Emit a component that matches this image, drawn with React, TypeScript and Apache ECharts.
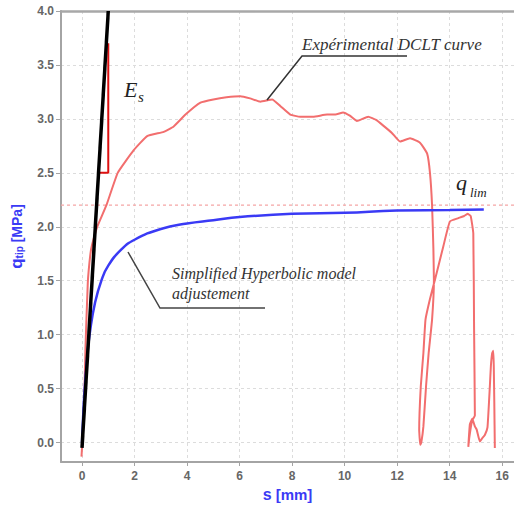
import React, { useEffect, useRef } from 'react';
import * as echarts from 'echarts';

// Experimental DCLT curve (s in mm, q_tip in MPa)
const expS = [
  -0.02, 0.0, 0.07, 0.13, 0.22, 0.32, 0.39, 0.58, 0.93, 1.36, 1.97, 2.48, 3.11, 3.49, 3.94, 4.51,
  5.0, 5.5, 6.03, 6.4, 6.79, 7.24, 7.55, 7.93, 8.31, 8.8, 9.33, 9.65, 9.94, 10.2, 10.47, 10.9,
  11.2, 11.46, 11.8, 12.11, 12.49, 12.87, 13.14, 13.25, 13.33, 13.38, 13.4, 13.33, 13.2, 13.1,
  13.0, 12.92, 12.88, 12.84, 12.9, 13.0, 13.08, 13.25, 13.44, 13.76, 14.01, 14.33, 14.55, 14.68,
  14.8, 14.9, 14.93, 14.96, 14.85, 14.75, 14.71, 14.77, 14.86, 14.96, 15.03, 15.15, 15.24, 15.34,
  15.44, 15.53, 15.57, 15.62, 15.66, 15.68, 15.7, 15.72,
];
const expQ = [
  -0.13, -0.05, 0.24, 0.86, 1.48, 1.75, 1.84, 2.0, 2.2, 2.5, 2.71, 2.84, 2.88, 2.93, 3.04, 3.15,
  3.18, 3.2, 3.21, 3.19, 3.16, 3.18, 3.12, 3.04, 3.02, 3.02, 3.04, 3.04, 3.06, 3.03, 2.98, 3.02,
  2.99, 2.94, 2.87, 2.79, 2.82, 2.78, 2.68, 2.5, 2.2, 1.8, 1.5, 1.14, 0.83, 0.52,
  0.15, 0.0, -0.02, 0.12, 0.52, 0.83, 1.14, 1.33, 1.51, 1.82, 2.05, 2.08, 2.1, 2.12,
  2.1, 1.94, 1.05, 0.25, 0.2, 0.05, -0.04, 0.17, 0.22, 0.15, 0.12, 0.01, 0.04, 0.07,
  0.14, 0.52, 0.71, 0.83, 0.85, 0.71, 0.37, -0.05,
];

// Simplified hyperbolic model adjustment
const hypS = [0, 0.05, 0.1, 0.2, 0.3, 0.5, 0.75, 1, 1.5, 2, 3, 4, 5, 6, 8, 10, 12, 14, 15.3];
const hypQ = [0, 0.28, 0.49, 0.8, 1.02, 1.3, 1.51, 1.64, 1.79, 1.88, 1.98, 2.03, 2.06, 2.09, 2.12, 2.13, 2.15, 2.155, 2.16];

// Initial stiffness line E_s and its slope triangle
const esS = [0, 1.0];
const esQ = [-0.05, 4.0];
const triS = [0.6, 1.0, 1.0];
const triQ = [2.5, 2.5, 3.7];

// Limit pressure line
const qLimS = [-0.8, 16.45];
const qLimQ = [2.2, 2.2];

const zip = (a: number[], b: number[]) => a.map((v, i) => [v, b[i]]);

const BLUE = '#3a3af5';
const SANS = '"Liberation Sans", Arial, sans-serif';
const SERIF = '"Liberation Serif", "DejaVu Serif", serif';

export default function App() {
  const ref = useRef<HTMLDivElement>(null);
  useEffect(() => {
    if (!ref.current) return;
    const chart = echarts.init(ref.current, undefined, { renderer: 'svg' });
    const labelStyle = { color: '#666', fontSize: 12, fontWeight: 'bold' as const, fontFamily: SANS };
    chart.setOption({
      animation: false,
      backgroundColor: '#fff',
      grid: { left: 60, right: 0, top: 11, bottom: 47, containLabel: false },
      xAxis: [
        {
          type: 'value',
          min: -0.8,
          max: 16.45,
          splitNumber: 8,
          name: '{s|s} [mm]',
          nameLocation: 'middle',
          nameGap: 24,
          nameTextStyle: {
            color: BLUE, fontSize: 15, fontWeight: 'bold', fontFamily: SANS,
            rich: { s: { color: BLUE, fontSize: 16, fontWeight: 'bold', fontFamily: SANS } },
          },
          axisLine: { show: true, onZero: false, lineStyle: { color: '#a4a4a4', width: 2 } },
          axisTick: { show: true, length: 4, lineStyle: { color: '#a4a4a4' } },
          axisLabel: {
            ...labelStyle,
            margin: 8,
            showMinLabel: false,
            showMaxLabel: false,
            formatter: (v: number) => (Math.abs(v - Math.round(v)) < 1e-6 && Math.round(v) % 2 === 0 ? String(Math.round(v)) : ''),
          },
          splitLine: { show: true, lineStyle: { color: '#dcdcdc', type: [3, 3], width: 1 } },
        },
        {
          type: 'value',
          position: 'top',
          min: -0.8,
          max: 16.45,
          axisLine: { show: true, onZero: false, lineStyle: { color: '#a8a8a8', width: 2.5 } },
          axisTick: { show: false },
          axisLabel: { show: false },
          splitLine: { show: false },
        },
      ],
      yAxis: {
        type: 'value',
        min: -0.18,
        max: 4.0,
        splitNumber: 8,
        name: '{q|q}{t|tip} [MPa]',
        nameLocation: 'middle',
        nameRotate: 90,
        nameGap: 36,
        nameTextStyle: {
          color: BLUE, fontSize: 14, fontWeight: 'bold', fontFamily: SANS,
          rich: {
            q: { color: BLUE, fontSize: 17, fontWeight: 'bold', fontFamily: SANS },
            t: { color: BLUE, fontSize: 10, fontWeight: 'bold', fontFamily: SANS, padding: [6, 0, 0, 0] },
          },
        },
        axisLine: { show: true, onZero: false, lineStyle: { color: '#a4a4a4', width: 2 } },
        axisTick: { show: true, length: 5, lineStyle: { color: '#a4a4a4' } },
        axisLabel: {
          ...labelStyle,
          margin: 7,
          showMinLabel: false,
          formatter: (v: number) => (Math.abs(v * 2 - Math.round(v * 2)) < 1e-6 ? v.toFixed(1) : ''),
        },
        splitLine: { show: true, lineStyle: { color: '#dcdcdc', type: [3, 3], width: 1 } },
      },
      series: [
        {
          type: 'line',
          name: 'q_lim',
          data: zip(qLimS, qLimQ),
          showSymbol: false,
          silent: true,
          lineStyle: { color: '#f5a5a5', type: [3, 3], width: 1.2 },
          z: 1,
        },
        {
          type: 'line',
          name: 'Experimental DCLT curve',
          data: zip(expS, expQ),
          showSymbol: false,
          smooth: 0.12,
          lineStyle: { color: '#f26e6e', width: 2 },
          z: 2,
        },
        {
          type: 'line',
          name: 'Simplified hyperbolic model',
          data: zip(hypS, hypQ),
          showSymbol: false,
          smooth: true,
          lineStyle: { color: BLUE, width: 2.5 },
          z: 3,
        },
        {
          type: 'line',
          data: zip(triS, triQ),
          showSymbol: false,
          lineStyle: { color: '#dd1111', width: 2 },
          z: 4,
        },
        {
          type: 'line',
          data: zip(esS, esQ),
          showSymbol: false,
          lineStyle: { color: '#000', width: 3.5 },
          z: 5,
        },
      ],
      graphic: [
        { type: 'text', z: 100, x: 124, y: 89.5, style: { text: 'E', font: `italic 22px ${SERIF}`, fill: '#222', align: 'left', verticalAlign: 'middle' } },
        { type: 'text', z: 100, x: 138, y: 97, style: { text: 's', font: `italic 15px ${SERIF}`, fill: '#222', align: 'left', verticalAlign: 'middle' } },
        { type: 'text', z: 100, x: 456, y: 182.5, style: { text: 'q', font: `italic 22px ${SERIF}`, fill: '#222', align: 'left', verticalAlign: 'middle' } },
        { type: 'text', z: 100, x: 470, y: 192, style: { text: 'lim', font: `italic 13px ${SERIF}`, fill: '#222', align: 'left', verticalAlign: 'middle' } },
        { type: 'text', z: 100, x: 302, y: 44, style: { text: 'Expérimental DCLT curve', font: `italic 17px ${SERIF}`, fill: '#333', align: 'left', verticalAlign: 'middle' } },
        { type: 'polyline', z: 100, shape: { points: [[267, 100], [302, 56], [407, 56]] }, style: { stroke: '#333', lineWidth: 1.5, fill: null } },
        { type: 'text', z: 100, x: 172, y: 273, style: { text: 'Simplified Hyperbolic model', font: `italic 16px ${SERIF}`, fill: '#333', align: 'left', verticalAlign: 'middle' } },
        { type: 'text', z: 100, x: 172, y: 293, style: { text: 'adjustement', font: `italic 16px ${SERIF}`, fill: '#333', align: 'left', verticalAlign: 'middle' } },
        { type: 'polyline', z: 100, shape: { points: [[128, 252], [160, 308], [265, 308]] }, style: { stroke: '#444', lineWidth: 1.5, fill: null } },
      ],
    });
    return () => chart.dispose();
  }, []);
  return <div ref={ref} style={{ position: 'absolute', left: 0, top: 0, width: 514, height: 509 }} />;
}
